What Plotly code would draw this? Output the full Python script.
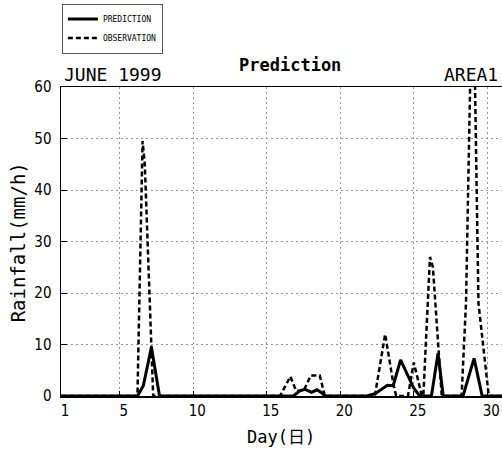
import plotly.graph_objects as go

# Time in days (fractional) and rainfall (mm/h)
pred_day = [1, 6.2, 6.6, 7.15, 7.7, 16.8, 17.25, 17.6, 18.05, 18.4, 18.75, 18.95,
            21.8, 22.4, 23.2, 23.6, 24.1, 25.0, 25.4, 26.2, 26.65, 27.0, 28.35, 29.1, 29.65, 31]
pred_val = [0, 0, 2.0, 9.5, 0, 0, 1.0, 1.3, 0.7, 1.2, 0.6, 0,
            0, 0.5, 2.1, 2.0, 7.0, 1.5, 0, 0, 8.3, 0, 0, 7.3, 0, 0]

obs_day = [1, 6.2, 6.55, 6.7, 7.27, 15.9, 16.6, 17.0, 17.5, 18.0, 18.6, 18.95,
           22.35, 23.05, 23.6, 23.8, 24.6, 25.0, 25.55, 25.65, 26.1, 26.3, 26.9,
           28.25, 28.55, 28.85, 29.15, 29.4, 30.1, 31]
obs_val = [0, 0, 49.5, 45, 0, 0, 3.8, 1.0, 1.0, 4.0, 4.0, 0,
           0, 12.0, 2.5, 0, 0, 6.5, 0, 0, 27.0, 25.0, 0,
           0, 18.0, 63, 63, 18.0, 0, 0]

x_ticks = [1, 5, 10, 15, 20, 25, 30]
y_ticks = [0, 10, 20, 30, 40, 50, 60]

TICKFONT = "Liberation Sans Narrow, DejaVu Sans Condensed, Noto Sans CJK JP, sans-serif"
MONO = "DejaVu Sans Mono, Noto Sans CJK JP, monospace"

fig = go.Figure()
fig.add_trace(go.Scatter(x=pred_day, y=pred_val, mode="lines", name="PREDICTION",
                         line=dict(color="black", width=3)))
fig.add_trace(go.Scatter(x=obs_day, y=obs_val, mode="lines", name="OBSERVATION",
                         line=dict(color="black", width=2.5, dash="5px,3px")))

fig.update_layout(
    width=502, height=451,
    margin=dict(l=61, r=0, t=87, b=55, autoexpand=False),
    paper_bgcolor="white", plot_bgcolor="white",
    showlegend=True, hovermode=False,
    legend=dict(x=0.002, y=1.27, xanchor="left", yanchor="top",
                bordercolor="#555", borderwidth=1, bgcolor="white",
                font=dict(family=MONO, size=8, color="black"),
                tracegroupgap=0),
    font=dict(family=TICKFONT, color="black"),
)
fig.update_xaxes(range=[1, 31], tickmode="array", tickvals=x_ticks,
                 ticktext=[str(v) for v in x_ticks], automargin=False,
                 showgrid=True, gridcolor="#999", griddash="2px,3px", gridwidth=1,
                 showline=True, linecolor="black", linewidth=1.5, mirror=True,
                 ticks="inside", ticklen=5, tickcolor="black",
                 tickfont=dict(family=TICKFONT, size=15, color="black"),
                 ticklabelshift=4, zeroline=False)
fig.update_yaxes(range=[0, 60], tickmode="array", tickvals=y_ticks,
                 ticktext=[str(v) for v in y_ticks], automargin=False,
                 showgrid=True, gridcolor="#999", griddash="2px,3px", gridwidth=1,
                 showline=True, linecolor="black", linewidth=1.5, mirror=False,
                 ticks="inside", ticklen=6, tickcolor="black",
                 tickfont=dict(family=TICKFONT, size=15, color="black"),
                 ticklabelstandoff=5, zeroline=False)

fig.add_annotation(text="Prediction", xref="paper", yref="paper", x=0.52, y=1.071,
                   xanchor="center", yanchor="middle", showarrow=False,
                   font=dict(family=MONO, size=17, color="black", weight="bold"))
fig.add_annotation(text="JUNE 1999", xref="paper", yref="paper", x=0.003, y=1.0,
                   xanchor="left", yanchor="bottom", showarrow=False,
                   font=dict(family=MONO, size=18, color="black"))
fig.add_annotation(text="AREA1", xref="paper", yref="paper", x=0.995, y=1.0,
                   xanchor="right", yanchor="bottom", showarrow=False,
                   font=dict(family=MONO, size=18, color="black"))
fig.add_annotation(text="Rainfall(mm/h)", xref="paper", yref="paper", x=-0.097, y=0.498,
                   xanchor="center", yanchor="middle", textangle=-90, showarrow=False,
                   font=dict(family=MONO, size=19, color="black"))
fig.add_annotation(text="Day(日)", xref="paper", yref="paper", x=0.499, y=-0.133,
                   xanchor="center", yanchor="middle", showarrow=False,
                   font=dict(family=MONO, size=17, color="black"))

# Remove the default page margin so the figure fills the 502x451 window exactly.
fig.write_html("out.html",
               config=dict(displayModeBar=False, staticPlot=True),
               post_script="document.body.style.margin='0';"
                           "document.body.style.overflow='hidden';"
                           "document.documentElement.style.overflow='hidden';")
